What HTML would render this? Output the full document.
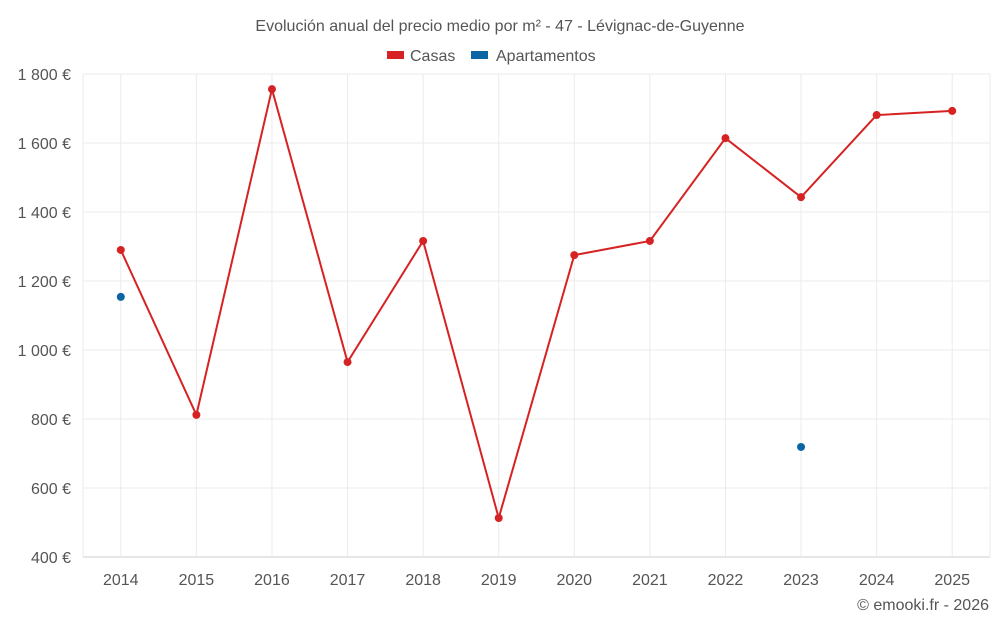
<!DOCTYPE html>
<html><head><meta charset="utf-8"><style>
body{margin:0;background:#fff;font-family:"Liberation Sans",sans-serif;}
svg text{font-family:"Liberation Sans",sans-serif;fill:#555;}
</style></head><body>
<svg id="c" width="1000" height="625">
<text x="500" y="31" text-anchor="middle" font-size="16">Evolución anual del precio medio por m² - 47 - Lévignac-de-Guyenne</text>
<g>
<rect x="387" y="51" width="17" height="8" fill="#d62222"/>
<text x="410" y="61" font-size="16">Casas</text>
<rect x="471" y="51" width="17" height="8" fill="#0a66a3"/>
<text x="496" y="61" font-size="16">Apartamentos</text>
</g>
<g id="grid"></g><g id="axes"></g><g id="marks"></g>
<text x="989" y="610" text-anchor="end" font-size="16">© emooki.fr - 2026</text>
</svg>
<script>
const categories=["2014","2015","2016","2017","2018","2019","2020","2021","2022","2023","2024","2025"];
const casas=[1290,812,1756,965,1316,513,1275,1316,1614,1443,1681,1693];
const apartamentos=[1154,null,null,null,null,null,null,null,null,719,null,null];
const yTicks=[400,600,800,1000,1200,1400,1600,1800];
const yLabels=["400 €","600 €","800 €","1 000 €","1 200 €","1 400 €","1 600 €","1 800 €"];
const NS="http://www.w3.org/2000/svg";
const L=83,R=990,T=74,B=557,ymin=400,ymax=1800;
const bw=(R-L)/categories.length;
function x(i){return L+bw*(i+0.5);}
function y(v){return B-(v-ymin)/(ymax-ymin)*(B-T);}
function mk(tag,attrs,parent){const e=document.createElementNS(NS,tag);for(const k in attrs)e.setAttribute(k,attrs[k]);document.getElementById(parent).appendChild(e);return e;}
yTicks.forEach((v,i)=>{
 const g=mk('line',{x1:L,x2:R,y1:y(v),y2:y(v),stroke:i==0?'#ccc':'#ebebeb'},'grid');
 
 
 const t=mk('text',{x:71,y:y(v)+6,'text-anchor':'end','font-size':16},'axes');
 t.textContent=yLabels[i];
 
 
});
[L,R].forEach(px=>{
 const g=mk('line',{x1:px,x2:px,y1:T,y2:B,stroke:'#ebebeb'},'grid');
 
 
});
categories.forEach((c,i)=>{
 const g=mk('line',{x1:x(i),x2:x(i),y1:T,y2:B,stroke:'#ebebeb'},'grid');
 
 
 const t=mk('text',{x:x(i),y:585,'text-anchor':'middle','font-size':16},'axes');
 t.textContent=c;
 
 
});
const pl=mk('polyline',{points:casas.map((v,i)=>x(i)+','+y(v)).join(' '),fill:'none',stroke:'#d62222','stroke-width':2},'marks');


casas.forEach((v,i)=>{
 const p=mk('circle',{cx:x(i),cy:y(v),r:4,fill:'#d62222'},'marks');
 
 
});
apartamentos.forEach((v,i)=>{
 if(v==null)return;
 const p=mk('circle',{cx:x(i),cy:y(v),r:4,fill:'#0a66a3'},'marks');
 
 
});
</script>
</body></html>
